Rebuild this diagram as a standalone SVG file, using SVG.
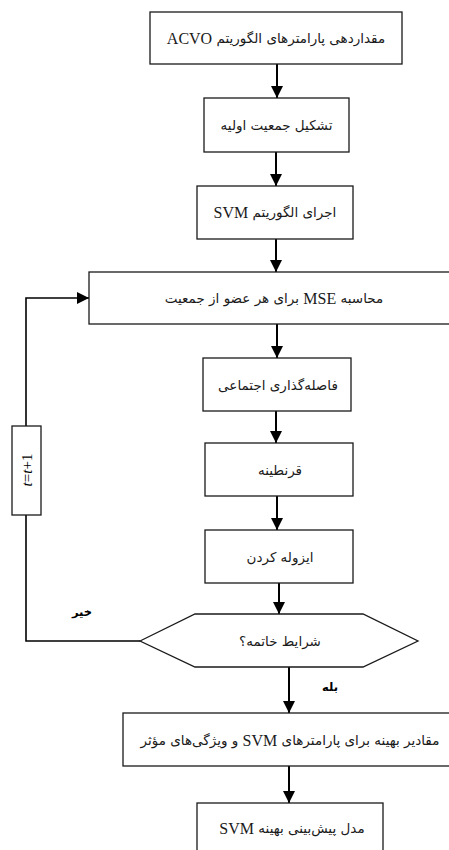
<svg xmlns="http://www.w3.org/2000/svg" width="449" height="850" viewBox="0 0 449 850">
<style>
.box{fill:#fff;stroke:#1a1a1a;stroke-width:1.3}
.t{font-family:"DejaVu Sans","Liberation Serif",sans-serif;font-size:13.5px;fill:#1a1a1a;text-anchor:middle;dominant-baseline:central;direction:rtl}
.lat{font-family:"Liberation Serif",serif;font-size:16px}
.c{fill:none;stroke:#000;stroke-width:2}
.lbl{font-family:"DejaVu Sans",sans-serif;font-size:11.5px;font-weight:bold;fill:#000;text-anchor:middle;dominant-baseline:central;direction:rtl}
</style>
<defs>
<marker id="ah" markerUnits="userSpaceOnUse" markerWidth="12" markerHeight="12" viewBox="0 0 12 12" refX="12" refY="6" orient="auto">
<path d="M0,0 L12,6 L0,12 Z" fill="#000"/>
</marker>
</defs>
<rect width="449" height="850" fill="#fff"/>
<g id="connectors">
<line class="c" x1="277" y1="64" x2="277" y2="98" marker-end="url(#ah)"/>
<line class="c" x1="276" y1="152" x2="276" y2="186" marker-end="url(#ah)"/>
<line class="c" x1="276" y1="239" x2="276" y2="272" marker-end="url(#ah)"/>
<line class="c" x1="277" y1="324" x2="277" y2="358" marker-end="url(#ah)"/>
<line class="c" x1="276" y1="411" x2="276" y2="443" marker-end="url(#ah)"/>
<line class="c" x1="277" y1="496" x2="277" y2="530" marker-end="url(#ah)"/>
<line class="c" x1="279" y1="583" x2="279" y2="614" marker-end="url(#ah)"/>
<line class="c" x1="289" y1="667" x2="289" y2="713" marker-end="url(#ah)"/>
<line class="c" x1="289" y1="766" x2="289" y2="803" marker-end="url(#ah)"/>
<path class="c" style="stroke-width:1.6" d="M140,641 H26 V298 H89" marker-end="url(#ah)"/>
<text class="lbl" x="82" y="612">خیر</text>
<text class="lbl" x="330" y="687">بله</text>
</g>
<g id="counter">
<rect class="box" x="12" y="426" width="29" height="89"/>
<text class="lat" x="0" y="0" transform="translate(27,470) rotate(-90)" text-anchor="middle" dominant-baseline="central" style="font-size:15px"><tspan font-style="italic">t</tspan>=<tspan font-style="italic">t</tspan>+1</text>
</g>
<g id="n1">
<rect class="box" x="150" y="12" width="252" height="52"/>
<text class="t" x="276" y="38">مقداردهی پارامترهای الگوریتم <tspan class="lat">ACVO</tspan></text>
</g>
<g id="n2">
<rect class="box" x="204" y="98" width="145" height="54"/>
<text class="t" x="276.5" y="125">تشکیل جمعیت اولیه</text>
</g>
<g id="n3">
<rect class="box" x="197" y="186" width="156" height="53"/>
<text class="t" x="275" y="212">اجرای الگوریتم <tspan class="lat">SVM</tspan></text>
</g>
<g id="n4">
<rect class="box" x="89" y="272" width="370" height="52"/>
<text class="t" x="274" y="298">محاسبه <tspan class="lat">MSE</tspan> برای هر عضو از جمعیت</text>
</g>
<g id="n5">
<rect class="box" x="203" y="358" width="148" height="53"/>
<text class="t" x="278" y="385">فاصله‌گذاری اجتماعی</text>
</g>
<g id="n6">
<rect class="box" x="205" y="443" width="148" height="53"/>
<text class="t" x="280" y="470">قرنطینه</text>
</g>
<g id="n7">
<rect class="box" x="205" y="530" width="148" height="53"/>
<text class="t" x="280" y="557">ایزوله کردن</text>
</g>
<g id="n8">
<polygon class="box" points="140,641 195,614 363,614 418,641 363,667 195,667"/>
<text class="t" x="280" y="641">شرایط خاتمه؟</text>
</g>
<g id="n9">
<rect class="box" x="123" y="713" width="334" height="53"/>
<text class="t" x="290" y="740">مقادیر بهینه برای پارامترهای <tspan class="lat">SVM</tspan> و ویژگی‌های مؤثر</text>
</g>
<g id="n10">
<rect class="box" x="197" y="803" width="186" height="60"/>
<text class="t" x="292" y="828">مدل پیش‌بینی بهینه <tspan class="lat">SVM</tspan></text>
</g>
</svg>
